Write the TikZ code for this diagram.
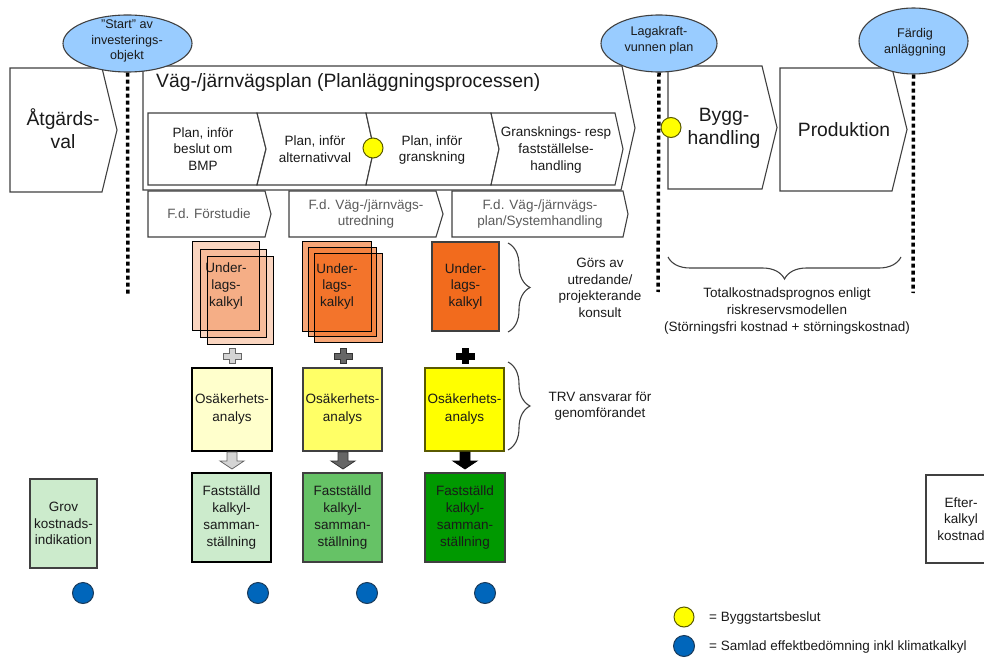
\documentclass[tikz,border=0pt]{standalone}
\usepackage{fontspec}
\setmainfont{Liberation Sans}
\usetikzlibrary{decorations.pathreplacing,shapes.geometric}
\definecolor{ln}{HTML}{404040}
\definecolor{txc}{HTML}{1A1A1A}
\definecolor{fdc}{HTML}{5A5A5A}
\definecolor{msblue}{HTML}{99CCFF}
\definecolor{yelc}{HTML}{FFFF00}
\definecolor{yelb}{HTML}{5A5A00}
\definecolor{bluec}{HTML}{0066BB}
\definecolor{blueb}{HTML}{1A3A5A}
\definecolor{ulA}{HTML}{F39A68}
\definecolor{ulB}{HTML}{F26B1D}
\definecolor{oA}{HTML}{FFFFCC}
\definecolor{oB}{HTML}{FFFF66}
\definecolor{oC}{HTML}{FFFF00}
\definecolor{fA}{HTML}{CCEBCC}
\definecolor{fB}{HTML}{66C266}
\definecolor{fC}{HTML}{009900}
\definecolor{plA}{HTML}{D4D4D4}
\definecolor{plAd}{HTML}{666666}
\definecolor{plB}{HTML}{666666}
\definecolor{plBd}{HTML}{333333}
\begin{document}
\begin{tikzpicture}[x=1pt,y=-1pt,
  chev/.style={draw=ln,line width=1.1,fill=white,line join=miter},
  tx/.style={font=\fontsize{13.5}{16.7}\selectfont,text=txc,align=center,inner sep=0pt},
  mstx/.style={font=\fontsize{12.6}{15.6}\selectfont,text=txc,align=center,inner sep=0pt},
  bigtx/.style={font=\fontsize{19.3}{23}\selectfont,text=txc,align=center,inner sep=0pt},
  fdtx/.style={tx,text=fdc},
  box/.style={rectangle,draw=#1,line width=1.1,tx,inner sep=0pt},
  ms/.style={ellipse,draw=ln,fill=msblue,line width=1.1,inner sep=0pt},
  dotline/.style={line width=3.5,dash pattern=on 4pt off 3pt,black},
  dotY/.style={circle,draw=yelb,fill=yelc,line width=1,minimum size=20,inner sep=0pt},
  dotB/.style={circle,draw=blueb,fill=bluec,line width=1,minimum size=21,inner sep=0pt},
  brc/.style={draw=ln,line width=1.1,decorate},
  sheet/.style={draw=black,line width=0.9},
]
\useasboundingbox (0,0) rectangle (984,660);
\clip (0,0) rectangle (984,660);

% ---------- top process shapes ----------
\draw[chev] (10,68) -- (102,68) -- (117,130) -- (102,192) -- (10,192) -- cycle;
\node[bigtx] (atg) at (63,129) {Åtgärds-\\val};

\draw[chev] (143,66) -- (622,66) -- (635,128) -- (621,190) -- (143,190) -- cycle;
\node[bigtx,anchor=base west] (plan) at (156,88) {Väg-/järnvägsplan (Planläggningsprocessen)};

\draw[chev] (148,113) -- (257,113) -- (266,149) -- (257,185) -- (148,185) -- cycle;
\draw[chev] (257,113) -- (366,113) -- (374,149) -- (366,185) -- (257,185) -- (266,149) -- cycle;
\draw[chev] (366,113) -- (491,113) -- (499,149) -- (491,185) -- (366,185) -- (374,149) -- cycle;
\draw[chev] (491,113) -- (615,113) -- (623,149) -- (615,185) -- (491,185) -- (499,149) -- cycle;
\node[tx] (c1) at (203,149) {Plan, inför\\beslut om\\BMP};
\node[tx] (c2) at (315,149) {Plan, inför\\alternativval};
\node[tx] (c3) at (432,150) {Plan, inför\\granskning};
\node[tx] (c4) at (556,150) {Gransknings- resp\\fastställelse-\\handling};

\draw[chev] (148,191) -- (265,191) -- (271,214) -- (265,237) -- (148,237) -- cycle;
\draw[chev] (289,191) -- (436,191) -- (443,214) -- (436,237) -- (289,237) -- cycle;
\draw[chev] (452,191) -- (623,191) -- (628,214) -- (623,237) -- (452,237) -- cycle;
\node[fdtx] (fd1) at (209,214) {F.d. Förstudie};
\node[fdtx] (fd2) at (366,214) {F.d. Väg-/järnvägs-\\utredning};
\node[fdtx] (fd3) at (540,214) {F.d. Väg-/järnvägs-\\plan/Systemhandling};

\draw[chev] (668,66) -- (762,66) -- (777,127.5) -- (762,189) -- (668,189) -- cycle;
\node[bigtx] (bygg) at (724,128) {Bygg-\\handling};
\draw[chev] (780,68) -- (892,68) -- (907,129.5) -- (892,191) -- (780,191) -- cycle;
\node[bigtx] (prod) at (844,130) {Produktion};

% ---------- milestones ----------
\node[ms,minimum width=129,minimum height=57] (ms1) at (127.5,43.5) {};
\node[ms,minimum width=116,minimum height=57] (ms2) at (659,43.5) {};
\node[ms,minimum width=109,minimum height=66] (ms3) at (913.5,41) {};
\node[mstx] (ms1t) at (127,41) {"Start" av\\investerings-\\objekt};
\node[mstx] (ms2t) at (659,40) {Lagakraft-\\vunnen plan};
\node[mstx] (ms3t) at (915,42) {Färdig\\anläggning};
\coordinate (e1) at (128,295);
\coordinate (e2) at (658,292);
\coordinate (e3) at (913,293);
\draw[dotline] (ms1.south) -- (e1);
\draw[dotline] (ms2.south) -- (e2);
\draw[dotline] (ms3.south) -- (e3);

\node[dotY] (y1) at (373,148) {};
\node[dotY] (y2) at (671,127.5) {};

% ---------- Underlagskalkyl ----------
\foreach \d in {14,7}{
  \fill[ulA,fill opacity=0.42] (193+\d,242+\d) rectangle (259+\d,330+\d);
}
\node[rectangle,fill=ulA,fill opacity=0.42,text opacity=1,tx,minimum width=66,minimum height=88] (ul1) at (226,286) {Under-\\lags-\\kalkyl};
\foreach \d in {14,7}{
  \draw[sheet] (193+\d,242+\d) rectangle (259+\d,330+\d);
}
\draw[sheet] (ul1.north west) rectangle (ul1.south east);

\foreach \d in {11,5.5}{
  \fill[ulB,fill opacity=0.6] (303+\d,242+\d) rectangle (371+\d,331+\d);
}
\node[rectangle,fill=ulB,fill opacity=0.6,text opacity=1,tx,minimum width=68,minimum height=89] (ul2) at (337,286.5) {Under-\\lags-\\kalkyl};
\foreach \d in {11,5.5}{
  \draw[sheet] (303+\d,242+\d) rectangle (371+\d,331+\d);
}
\draw[sheet] (ul2.north west) rectangle (ul2.south east);

\node[box=ln,fill=ulB,minimum width=67,minimum height=89] (ul3) at (465.5,286.5) {Under-\\lags-\\kalkyl};

% ---------- plus signs ----------
\foreach \cx/\fc/\dc in {232/plA/plAd,343/plB/plBd,465/black/black}{
  \draw[fill=\fc,draw=\dc,line width=0.8]
    (\cx-9,353) -- (\cx-3,353) -- (\cx-3,348.5) -- (\cx+3,348.5) -- (\cx+3,353) -- (\cx+9,353)
    -- (\cx+9,359) -- (\cx+3,359) -- (\cx+3,363.5) -- (\cx-3,363.5) -- (\cx-3,359) -- (\cx-9,359) -- cycle;
}

% ---------- Osäkerhetsanalys ----------
\node[box=black,fill=oA,minimum width=80,minimum height=83,font=\fontsize{13.5}{18}\selectfont] (o1) at (232,409.5) {Osäkerhets-\\analys};
\node[box=ln,fill=oB,minimum width=79,minimum height=83,font=\fontsize{13.5}{18}\selectfont] (o2) at (342.5,409.5) {Osäkerhets-\\analys};
\node[box=yelb,fill=oC,minimum width=79,minimum height=83,font=\fontsize{13.5}{18}\selectfont] (o3) at (464.5,409.5) {Osäkerhets-\\analys};

% ---------- block arrows ----------
\foreach \cx/\fc/\dc in {232/plA/plAd,343/plB/plBd,465/black/black}{
  \draw[fill=\fc,draw=\dc,line width=0.8]
    (\cx-5,452) -- (\cx+5,452) -- (\cx+5,461) -- (\cx+12,461) -- (\cx,469) -- (\cx-12,461) -- (\cx-5,461) -- cycle;
}

% ---------- Fastställd ----------
\node[box=black,fill=fA,minimum width=79,minimum height=89] (f1) at (231.5,517.5) {Fastställd\\kalkyl-\\samman-\\ställning};
\node[box=ln,fill=fB,minimum width=79,minimum height=89] (f2) at (342.5,517.5) {Fastställd\\kalkyl-\\samman-\\ställning};
\node[box=ln,fill=fC,minimum width=80,minimum height=89] (f3) at (465,517.5) {Fastställd\\kalkyl-\\samman-\\ställning};
\node[box=ln,fill=fA,minimum width=67,minimum height=89] (grov) at (63.5,523.5) {Grov\\kostnads-\\indikation};
\node[box=ln,fill=white,minimum width=70,minimum height=88] (efter) at (961,519) {Efter-\\kalkyl\\kostnad};

% ---------- blue dots ----------
\node[dotB] (b1) at (83,593) {};
\node[dotB] (b2) at (258,593) {};
\node[dotB] (b3) at (367,593) {};
\node[dotB] (b4) at (485,593) {};

% ---------- braces ----------
\draw[brc,decoration={brace,amplitude=22pt}] (508,243) -- (508,332);
\draw[brc,decoration={brace,amplitude=22pt}] (508,362) -- (508,450);
\draw[brc,decoration={brace,mirror,amplitude=22pt}] (668,257) -- (901,257);
\node[tx] (gors) at (600,288) {Görs av\\utredande/\\projekterande\\konsult};
\node[tx] (trv) at (600,406) {TRV ansvarar för\\genomförandet};
\node[tx] (tot) at (787,311) {Totalkostnadsprognos enligt\\riskreservsmodellen\\(Störningsfri kostnad + störningskostnad)};

% ---------- legend ----------
\node[dotY] (leg1) at (684,617) {};
\node[tx,anchor=west] (leg1t) at (709,618) {= Byggstartsbeslut};
\node[dotB] (leg2) at (684,646) {};
\node[tx,anchor=west] (leg2t) at (709,647) {= Samlad effektbedömning inkl klimatkalkyl};
\end{tikzpicture}
\end{document}
